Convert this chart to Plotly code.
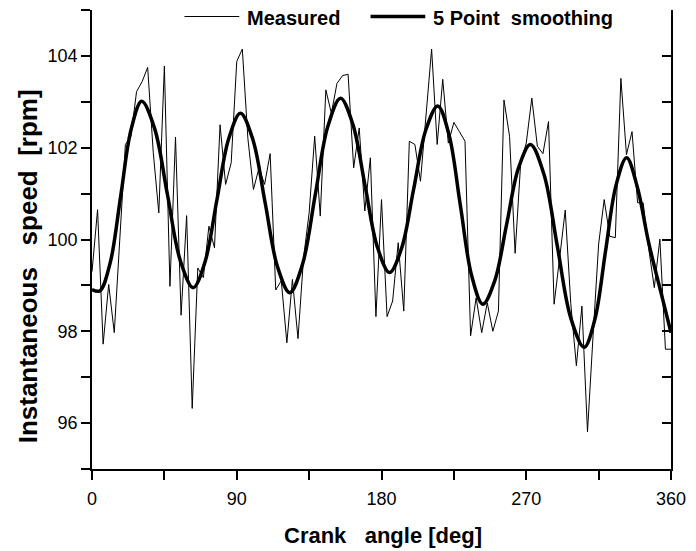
import numpy as np
import plotly.graph_objects as go

# ---- data ----
n_points = 105
angle_deg = list(np.linspace(0, 360, n_points))

measured_rpm = [
    99.3, 100.65, 97.72, 99.02, 97.97, 100.0, 102.07, 102.25, 103.22, 103.44,
    103.75, 101.9, 100.58, 103.78, 98.98, 102.23, 98.35, 100.52, 96.32, 99.38,
    99.17, 100.29, 99.82, 102.5, 101.2, 101.67, 103.88, 104.15, 102.2, 101.09,
    101.56, 101.2, 101.87, 98.9, 99.1, 97.75, 99.13, 97.84, 99.6, 100.58,
    102.25, 100.51, 103.26, 102.75, 103.4, 103.57, 103.6, 101.56, 102.43, 100.62,
    101.78, 98.32, 100.87, 98.32, 98.66, 99.93, 98.44, 102.14, 102.07, 101.27,
    102.68, 104.15, 102.07, 103.49, 102.1, 102.55, 102.35, 102.14, 97.9, 98.73,
    97.97, 98.62, 98.0, 98.44, 103.04, 102.25, 99.7, 101.67, 102.1, 103.08,
    102.03, 101.87, 102.57, 98.59, 99.6, 100.64, 98.6, 97.25, 98.55, 95.81,
    97.9, 99.9, 100.87, 100.07, 100.04, 103.51, 101.85, 102.35, 100.8, 100.8,
    99.8, 98.95, 100.01, 97.61, 97.61,
]

smooth_angle = [0, 4.8, 11.3, 17.85, 24.4, 30.9, 38.9, 46.9, 54.9, 62.9,
                70.25, 77.6, 84.95, 92.3, 100, 107.65, 115.3, 123, 130.9, 138.75,
                146.6, 154.5, 162.1, 169.75, 177.4, 185, 192.5, 200, 207.5, 215,
                222, 229, 236, 243, 250.4, 257.8, 265.2, 272.6, 281, 289.3,
                297.6, 306, 312.6, 319.2, 325.8, 332.4, 339, 346, 353, 360]
smooth_rpm = [98.91, 98.88, 99.49, 100.95, 102.41, 103.01, 102.42, 100.98, 99.54, 98.95,
              99.51, 100.85, 102.19, 102.75, 102.18, 100.8, 99.41, 98.84, 99.46, 100.96,
              102.46, 103.08, 102.52, 101.18, 99.84, 99.28, 99.81, 101.1, 102.38, 102.91,
              102.28, 100.75, 99.22, 98.59, 99.1, 100.33, 101.56, 102.07, 101.42, 99.86,
              98.3, 97.65, 98.25, 99.72, 101.18, 101.78, 101.15, 99.95, 98.95, 97.97]

x_ticks = [0, 90, 180, 270, 360]
y_ticks = [96, 98, 100, 102, 104]

FONT = "Liberation Sans, Arial, sans-serif"
NB = "\u00a0"
SERIES_NAMES = ["Measured", "5 Point" + NB + NB + "smoothing"]
SERIES_WIDTHS = [1, 3.5]

fig = go.Figure()
fig.add_trace(go.Scatter(x=angle_deg, y=measured_rpm, mode="lines", showlegend=False,
                         name=SERIES_NAMES[0], line=dict(color="black", width=SERIES_WIDTHS[0])))
fig.add_trace(go.Scatter(x=smooth_angle, y=smooth_rpm, mode="lines", showlegend=False,
                         name=SERIES_NAMES[1],
                         line=dict(color="black", width=SERIES_WIDTHS[1], shape="spline", smoothing=1.0)))
# carrier for right-hand axis
fig.add_trace(go.Scatter(x=[None], y=[None], yaxis="y2", showlegend=False, hoverinfo="skip"))

# legend drawn as key lines + labels (paper coordinates)
L, R, T, B = 92, 674, 10, 469
def px(xp):
    return (xp - L) / (R - L)
def py(yp):
    return (B - yp) / (B - T)

legend_keys = [(185, 240, 246), (372, 427, 433)]
legend_y = 16.5
shapes = []
annotations = []
for (x0, x1, xt), name, w in zip(legend_keys, SERIES_NAMES, SERIES_WIDTHS):
    shapes.append(dict(type="line", xref="paper", yref="paper",
                       x0=px(x0), x1=px(x1), y0=py(legend_y), y1=py(legend_y),
                       line=dict(color="black", width=w if w > 1 else 1.2)))
    annotations.append(dict(text=name, xref="paper", yref="paper", x=px(xt), y=py(legend_y + 1),
                            xanchor="left", yanchor="middle", showarrow=False,
                            font=dict(size=20, family=FONT, weight="bold")))

annotations += [
    dict(text="Crank" + NB * 3 + "angle [deg]", xref="paper", yref="paper",
         x=px(385), y=py(535), xanchor="center", yanchor="middle", showarrow=False,
         font=dict(size=22, family=FONT, weight="bold")),
    dict(text="Instantaneous" + NB * 3 + "speed" + NB * 2 + "[rpm]", xref="paper", yref="paper",
         x=px(28), y=py(266), xanchor="center", yanchor="middle", showarrow=False,
         textangle=-90, font=dict(size=26, family=FONT, weight="bold")),
]

fig.update_layout(
    width=696, height=551,
    margin=dict(l=L, r=696 - R, t=T, b=551 - B),
    paper_bgcolor="white", plot_bgcolor="white",
    font=dict(family=FONT, color="black", size=18),
    showlegend=False,
    xaxis=dict(range=[0, 360], tickvals=x_ticks, ticks="outside", ticklen=9, tickwidth=1.5,
               tickcolor="black", showline=True, linecolor="black", linewidth=1.5,
               showgrid=False, zeroline=False, tickfont=dict(size=18),
               ticklabelstandoff=4,
               minor=dict(dtick=45, tick0=0, ticks="outside", ticklen=9, tickwidth=1.5,
                          tickcolor="black", showgrid=False)),
    yaxis=dict(range=[95, 105], tickvals=y_ticks, ticks="outside", ticklen=9, tickwidth=1.5,
               tickcolor="black", showline=True, linecolor="black", linewidth=1.5,
               showgrid=False, zeroline=False, tickfont=dict(size=18),
               minor=dict(dtick=1, tick0=95, ticks="outside", ticklen=9, tickwidth=1.5,
                          tickcolor="black", showgrid=False)),
    yaxis2=dict(range=[95, 105], overlaying="y", side="right", showticklabels=False,
                ticks="inside", ticklen=9, tickwidth=1.5, tickcolor="black",
                tickvals=y_ticks, showline=True, linecolor="black", linewidth=1.5,
                showgrid=False, zeroline=False,
                minor=dict(dtick=1, tick0=95, ticks="inside", ticklen=9, tickwidth=1.5,
                           tickcolor="black", showgrid=False)),
    shapes=shapes,
    annotations=annotations,
)

fig.write_html("out.html")
